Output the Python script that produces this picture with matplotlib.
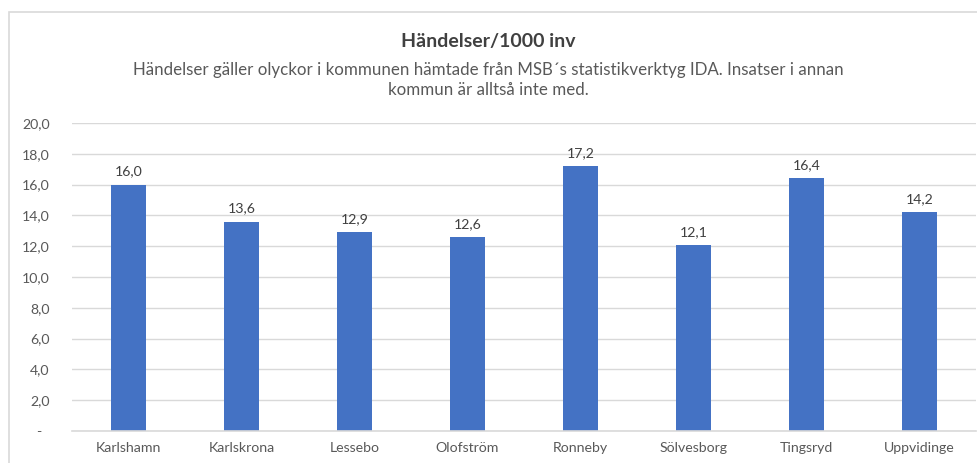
import matplotlib.pyplot as plt
from matplotlib.patches import Rectangle

kommuner = ["Karlshamn", "Karlskrona", "Lessebo", "Olofström",
            "Ronneby", "Sölvesborg", "Tingsryd", "Uppvidinge"]
handelser = [16.0, 13.6, 12.9, 12.6, 17.2, 12.1, 16.4, 14.2]
yticks = [0, 2, 4, 6, 8, 10, 12, 14, 16, 18, 20]

title = "Händelser/1000 inv"
subtitle = ("Händelser gäller olyckor i kommunen hämtade från MSB´s statistikverktyg IDA. Insatser i annan\n"
            "kommun är alltså inte med.")

plt.rcParams["font.family"] = ["Lato", "DejaVu Sans"]
txt = "#595959"
grid = "#D9D9D9"
bar_col = "#4472C4"

fig = plt.figure(figsize=(9.77, 4.63), dpi=100)
# chart frame (cut by the image on the right and bottom)
fig.patches.append(Rectangle((9 / 977, -0.1), 1.2, (463 - 12) / 463 + 0.1,
                             transform=fig.transFigure, fill=False,
                             edgecolor=grid, linewidth=1.2))

ax = fig.add_axes([72 / 977, 32 / 463, 904 / 977, 308 / 463])
x = range(len(kommuner))
bars = ax.bar(x, handelser, width=0.31, color=bar_col, zorder=3)

for xi, v in zip(x, handelser):
    ax.annotate(f"{v:.1f}".replace(".", ","), (xi, v), xytext=(0, 5),
                textcoords="offset points", ha="center", va="bottom",
                fontsize=10.2, color="#404040")

ax.set_xlim(-0.5, len(kommuner) - 0.5)
ax.set_ylim(0, 20)
ax.set_yticks(yticks)
ax.set_yticklabels(["-  " if t == 0 else f"{t:.1f}".replace(".", ",") for t in yticks])
ax.set_xticks(list(x))
ax.set_xticklabels(kommuner)
ax.tick_params(axis="both", length=0, labelsize=10.2, colors=txt)
ax.tick_params(axis="y", pad=16)
ax.tick_params(axis="x", pad=8)
ax.grid(axis="y", color=grid, linewidth=1, zorder=0)
for s in ["top", "right", "left"]:
    ax.spines[s].set_visible(False)
ax.spines["bottom"].set_color(grid)
ax.spines["bottom"].set_linewidth(1.2)
ax.spines["bottom"].set_zorder(4)

fig.text(0.5, 1 - 42 / 463, title, ha="center", va="center",
         fontsize=14, fontweight="bold", color="#404040")
fig.text(0.5, 1 - 80 / 463, subtitle, ha="center", va="center",
         fontsize=12.2, color=txt, linespacing=1.3)

fig.savefig("out.png", dpi=100)
